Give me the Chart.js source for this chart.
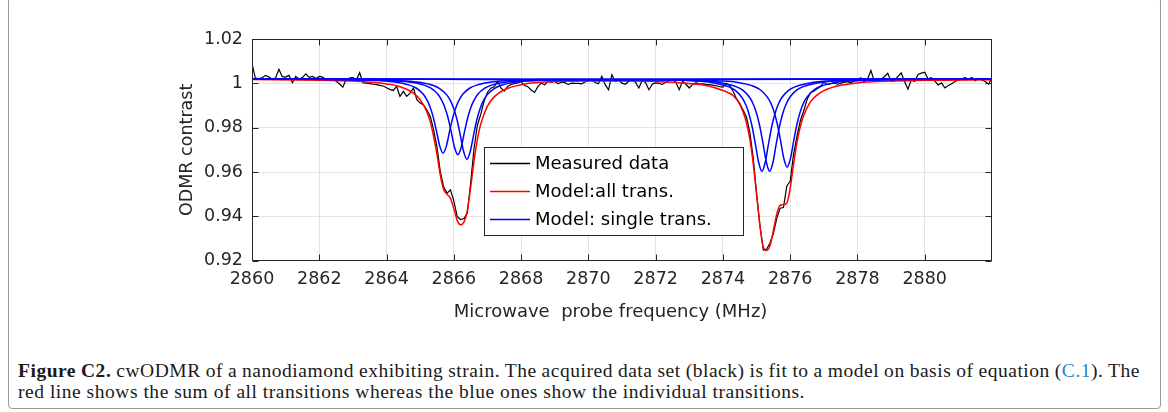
<!DOCTYPE html>
<html>
<head>
<meta charset="utf-8">
<script src="https://cdn.jsdelivr.net/npm/chart.js@4.4.1/dist/chart.umd.min.js"></script>
<style>
  html, body { margin: 0; padding: 0; background: #fff; }
  body { width: 1168px; height: 412px; position: relative; overflow: hidden; }
  #frame { position: absolute; left: 8px; top: -3px; width: 1151px; height: 410px; border: 1px solid #9a9a9a; border-radius: 4px; }
  #plot { position: absolute; left: 0; top: 0; }
  .cap { position: absolute; left: 18px; font-family: "Liberation Serif", "Times New Roman", serif; font-size: 19.5px; color: #1a1a1a; white-space: nowrap; }
  #cap1 { top: 360px; }
  #cap2 { top: 381px; }
  .ref { color: #2a86c8; }
</style>
</head>
<body>
<div id="frame"></div>
<canvas id="plot" width="1168" height="330"></canvas>
<div class="cap" id="cap1"><b>Figure C2.</b> cwODMR of a nanodiamond exhibiting strain. The acquired data set (black) is fit to a model on basis of equation (<span class="ref">C.1</span>). The</div>
<div class="cap" id="cap2">red line shows the sum of all transitions whereas the blue ones show the individual transitions.</div>
<script>
// axis ticks
const xTicks = [2860, 2862, 2864, 2866, 2868, 2870, 2872, 2874, 2876, 2878, 2880];
const yTicks = [0.92, 0.94, 0.96, 0.98, 1, 1.02];

// measured data, sampled every 0.1 MHz from 2860 MHz
const freqStart = 2860;
const freqStep = 0.1;
const measured = [
  1.0088, 1.0024, 1.0021, 1.0025, 1.0036, 1.0029, 1.0020, 1.0024, 1.0063, 1.0030,
  1.0028, 1.0036, 1.0003, 1.0031, 1.0019, 1.0026, 1.0043, 1.0027, 1.0031, 1.0022,
  1.0031, 1.0028, 1.0016, 1.0013, 1.0022, 1.0009, 0.9998, 0.9983, 1.0018, 1.0024,
  1.0027, 1.0015, 1.0048, 1.0003, 1.0001, 0.9999, 0.9996, 0.9994, 0.9991, 0.9988,
  0.9980, 0.9973, 0.9968, 0.9986, 0.9941, 0.9964, 0.9941, 0.9956, 0.9979, 0.9926,
  0.9911, 0.9903, 0.9880, 0.9851, 0.9790, 0.9712, 0.9600, 0.9532, 0.9505, 0.9520,
  0.9470, 0.9400, 0.9386, 0.9390, 0.9414, 0.9550, 0.9705, 0.9810, 0.9860, 0.9920,
  0.9960, 0.9978, 0.9984, 1.0009, 0.9979, 0.9965, 0.9986, 0.9995, 0.9999, 1.0002,
  1.0009, 0.9990, 0.9985, 0.9970, 0.9959, 0.9985, 1.0001, 0.9994, 1.0009, 1.0005,
  1.0009, 0.9998, 1.0006, 1.0003, 0.9995, 1.0001, 1.0000, 1.0000, 0.9998, 1.0006,
  1.0012, 1.0018, 1.0004, 0.9998, 1.0032, 0.9994, 0.9971, 1.0039, 1.0008, 1.0015,
  1.0001, 0.9996, 1.0009, 1.0016, 1.0005, 0.9979, 1.0012, 1.0004, 0.9971, 0.9996,
  1.0002, 1.0000, 0.9995, 1.0005, 1.0012, 1.0018, 1.0006, 0.9971, 1.0009, 0.9996,
  0.9979, 0.9995, 1.0003, 0.9997, 0.9998, 0.9995, 0.9994, 0.9992, 0.9989, 0.9985,
  0.9983, 1.0000, 0.9990, 0.9965, 0.9932, 0.9910, 0.9880, 0.9848, 0.9780, 0.9665,
  0.9505, 0.9360, 0.9248, 0.9252, 0.9280, 0.9322, 0.9390, 0.9437, 0.9440, 0.9537,
  0.9558, 0.9680, 0.9760, 0.9830, 0.9875, 0.9926, 0.9958, 0.9964, 0.9975, 0.9986,
  1.0005, 0.9995, 0.9998, 1.0003, 0.9996, 1.0000, 1.0005, 1.0007, 1.0002, 1.0011,
  1.0015, 1.0025, 1.0008, 1.0020, 1.0058, 1.0010, 1.0012, 1.0017, 1.0030, 1.0045,
  1.0010, 1.0012, 1.0030, 1.0047, 1.0008, 0.9974, 1.0015, 1.0008, 1.0040, 1.0046,
  1.0050, 1.0020, 1.0025, 1.0010, 0.9993, 1.0002, 0.9979, 0.9990, 0.9998, 1.0008,
  1.0015, 1.0020, 1.0026, 1.0018, 1.0026, 1.0012, 1.0022, 1.0015, 1.0008, 0.9996,
  1.0028
];

// model: sum of all transitions (red)
const modelFreq = [
  2860, 2862, 2863, 2863.5, 2864, 2864.4, 2864.8, 2865.0, 2865.2, 2865.3,
  2865.4, 2865.5, 2865.6, 2865.7, 2865.8, 2865.9, 2866.0, 2866.1, 2866.2, 2866.3,
  2866.4, 2866.5, 2866.6, 2866.7, 2866.8, 2867.0, 2867.2, 2867.5, 2868, 2869,
  2870, 2871, 2872, 2873, 2873.5, 2874, 2874.3, 2874.5, 2874.6, 2874.7,
  2874.8, 2874.9, 2875.0, 2875.1, 2875.2, 2875.3, 2875.4, 2875.5, 2875.6, 2875.7,
  2875.8, 2875.9, 2876.0, 2876.1, 2876.2, 2876.3, 2876.4, 2876.6, 2876.8, 2877.0,
  2877.5, 2878, 2879, 2880, 2882
];
const modelAll = [
  1.0017, 1.0014, 1.0010, 1.0005, 0.9997, 0.9985, 0.9956, 0.9926, 0.9871, 0.9826,
  0.9760, 0.9680, 0.9585, 0.9520, 0.9500, 0.9481, 0.9435, 0.9382, 0.9362, 0.9374,
  0.9425, 0.9530, 0.9649, 0.9746, 0.9816, 0.9897, 0.9939, 0.9971, 0.9994, 1.0008,
  1.0010, 1.0010, 1.0008, 0.9999, 0.9990, 0.9968, 0.9945, 0.9906, 0.9870, 0.9822,
  0.9748, 0.9640, 0.9501, 0.9360, 0.9262, 0.9246, 0.9268, 0.9335, 0.9410, 0.9450,
  0.9452, 0.9460, 0.9527, 0.9635, 0.9732, 0.9804, 0.9854, 0.9916, 0.9947, 0.9967,
  0.9991, 1.0002, 1.0010, 1.0014, 1.0016
];

// model: single transitions (blue), one list per transition
const singleFreq = [
  [2860, 2862.68, 2863.68, 2864.18, 2864.68, 2864.88, 2865.08, 2865.18, 2865.28, 2865.38, 2865.48, 2865.58, 2865.68,
   2865.78, 2865.88, 2865.98, 2866.08, 2866.18, 2866.28, 2866.48, 2866.68, 2867.18, 2867.68, 2868.68, 2882],
  [2860, 2863.12, 2864.12, 2864.62, 2865.12, 2865.32, 2865.52, 2865.62, 2865.72, 2865.82, 2865.92, 2866.02, 2866.12,
   2866.22, 2866.32, 2866.42, 2866.52, 2866.62, 2866.72, 2866.92, 2867.12, 2867.62, 2868.12, 2869.12, 2882],
  [2860, 2863.39, 2864.39, 2864.89, 2865.39, 2865.59, 2865.79, 2865.89, 2865.99, 2866.09, 2866.19, 2866.29, 2866.39,
   2866.49, 2866.59, 2866.69, 2866.79, 2866.89, 2866.99, 2867.19, 2867.39, 2867.89, 2868.39, 2869.39, 2882],
  [2860, 2872.16, 2873.16, 2873.66, 2874.16, 2874.36, 2874.56, 2874.66, 2874.76, 2874.86, 2874.96, 2875.06, 2875.16,
   2875.26, 2875.36, 2875.46, 2875.56, 2875.66, 2875.76, 2875.96, 2876.16, 2876.66, 2877.16, 2878.16, 2882],
  [2860, 2872.39, 2873.39, 2873.89, 2874.39, 2874.59, 2874.79, 2874.89, 2874.99, 2875.09, 2875.19, 2875.29, 2875.39,
   2875.49, 2875.59, 2875.69, 2875.79, 2875.89, 2875.99, 2876.19, 2876.39, 2876.89, 2877.39, 2878.39, 2882],
  [2860, 2872.91, 2873.91, 2874.41, 2874.91, 2875.11, 2875.31, 2875.41, 2875.51, 2875.61, 2875.71, 2875.81, 2875.91,
   2876.01, 2876.11, 2876.21, 2876.31, 2876.41, 2876.51, 2876.71, 2876.91, 2877.41, 2877.91, 2878.91, 2882]
];
const singleVal = [
  [1.002, 1.0017, 1.0013, 1.0007, 0.9992, 0.9979, 0.9953, 0.9931, 0.9899, 0.9852, 0.9788, 0.9718, 0.9685,
   0.9718, 0.9788, 0.9852, 0.9899, 0.9931, 0.9953, 0.9979, 0.9992, 1.0007, 1.0013, 1.0017, 1.002],
  [1.002, 1.0017, 1.0012, 1.0007, 0.9992, 0.9978, 0.9952, 0.9929, 0.9897, 0.9849, 0.9783, 0.9712, 0.9678,
   0.9712, 0.9783, 0.9849, 0.9897, 0.9929, 0.9952, 0.9978, 0.9992, 1.0007, 1.0012, 1.0017, 1.002],
  [1.002, 1.0016, 1.0012, 1.0006, 0.9990, 0.9975, 0.9948, 0.9924, 0.9890, 0.9839, 0.9769, 0.9694, 0.9658,
   0.9694, 0.9769, 0.9839, 0.9890, 0.9924, 0.9948, 0.9975, 0.9990, 1.0006, 1.0012, 1.0016, 1.002],
  [1.002, 1.0016, 1.0011, 1.0004, 0.9985, 0.9969, 0.9937, 0.9910, 0.9870, 0.9811, 0.9731, 0.9645, 0.9603,
   0.9645, 0.9731, 0.9811, 0.9870, 0.9910, 0.9937, 0.9969, 0.9985, 1.0004, 1.0011, 1.0016, 1.002],
  [1.002, 1.0016, 1.0011, 1.0004, 0.9985, 0.9969, 0.9937, 0.9910, 0.9870, 0.9811, 0.9731, 0.9645, 0.9603,
   0.9645, 0.9731, 0.9811, 0.9870, 0.9910, 0.9937, 0.9969, 0.9985, 1.0004, 1.0011, 1.0016, 1.002],
  [1.002, 1.0016, 1.0011, 1.0005, 0.9987, 0.9971, 0.9940, 0.9915, 0.9877, 0.9821, 0.9745, 0.9662, 0.9622,
   0.9662, 0.9745, 0.9821, 0.9877, 0.9915, 0.9940, 0.9971, 0.9987, 1.0005, 1.0011, 1.0016, 1.002]
];

const legendLabels = ["Measured data", "Model:all trans.", "Model: single trans."];
const legendColors = ["#000000", "#ff0000", "#0000ff"];

const axisColor = "#262626";
const font = "DejaVu Sans";

function pairs(xs, ys) {
  return ys.map((y, i) => ({ x: xs[i], y: y }));
}

let datasets = [];
datasets.push({
  label: legendLabels[0],
  data: measured.map((y, i) => ({ x: freqStart + i * freqStep, y: y })),
  borderColor: legendColors[0], borderWidth: 1.2, pointRadius: 0, tension: 0, order: 3
});
datasets.push({
  label: legendLabels[1],
  data: pairs(modelFreq, modelAll),
  borderColor: legendColors[1], borderWidth: 1.5, pointRadius: 0,
  cubicInterpolationMode: "monotone", order: 2
});
singleVal.forEach((vals, k) => {
  datasets.push({
    label: legendLabels[2],
    data: pairs(singleFreq[k], vals),
    borderColor: legendColors[2], borderWidth: 1.5, pointRadius: 0,
    cubicInterpolationMode: "monotone", order: 1
  });
});

// box round the axes with inward ticks on every side, like matlab
const boxPlugin = {
  id: "box",
  afterDatasetsDraw(chart) {
    const { ctx, chartArea: a, scales } = chart;
    const L = Math.round(a.left) + 0.5, R = Math.round(a.right) - 0.5;
    const T = Math.round(a.top) + 0.5, B = Math.round(a.bottom) - 0.5;
    ctx.save();
    ctx.strokeStyle = axisColor;
    ctx.lineWidth = 1;
    ctx.strokeRect(L, T, R - L, B - T);
    ctx.beginPath();
    xTicks.forEach(v => {
      const px = Math.round(scales.x.getPixelForValue(v)) + 0.5;
      ctx.moveTo(px, B); ctx.lineTo(px, B - 6);
      ctx.moveTo(px, T); ctx.lineTo(px, T + 6);
    });
    yTicks.forEach(v => {
      const py = Math.round(scales.y.getPixelForValue(v)) + 0.5;
      ctx.moveTo(L, py); ctx.lineTo(L + 6, py);
      ctx.moveTo(R, py); ctx.lineTo(R - 6, py);
    });
    ctx.stroke();
    ctx.restore();
  },
  afterDraw(chart) {
    // legend box inside the plot
    const ctx = chart.ctx;
    const left = 484.5, top = 147.5, w = 259, h = 88;
    ctx.save();
    ctx.fillStyle = "#fff";
    ctx.fillRect(left, top, w, h);
    ctx.strokeStyle = axisColor;
    ctx.lineWidth = 1;
    ctx.strokeRect(left, top, w, h);
    ctx.font = "18px '" + font + "'";
    ctx.textBaseline = "middle";
    legendLabels.forEach((lab, i) => {
      const y = top + 16 + i * 28;
      ctx.strokeStyle = legendColors[i];
      ctx.lineWidth = 1.3;
      ctx.beginPath();
      ctx.moveTo(490, y); ctx.lineTo(530, y);
      ctx.stroke();
      ctx.fillStyle = "#000";
      ctx.fillText(lab, 535, y + 1);
    });
    ctx.restore();
  }
};

new Chart(document.getElementById("plot"), {
  type: "line",
  data: { datasets: datasets },
  options: {
    responsive: false,
    animation: false,
    devicePixelRatio: 1,
    layout: { padding: { left: 173, right: 176, top: 39, bottom: 4 } },
    plugins: { legend: { display: false }, tooltip: { enabled: false } },
    scales: {
      x: {
        type: "linear", min: 2860, max: 2882,
        afterBuildTicks: s => { s.ticks = xTicks.map(v => ({ value: v })); },
        afterFit: s => { s.height = 65.3; },
        grid: { color: "#e3e3e3", drawTicks: false },
        border: { display: false },
        ticks: { color: axisColor, padding: 8, maxRotation: 0, font: { family: font, size: 17.5 },
                 callback: v => String(v) },
        title: { display: true, text: "Microwave  probe frequency (MHz)    ", color: axisColor,
                 font: { family: font, size: 18 }, padding: { top: 0, bottom: 3 } }
      },
      y: {
        min: 0.92, max: 1.02,
        afterBuildTicks: s => { s.ticks = yTicks.map(v => ({ value: v })); },
        afterFit: s => { s.width = 79; },
        grid: { color: "#e3e3e3", drawTicks: false },
        border: { display: false },
        ticks: { color: axisColor, padding: 9, font: { family: font, size: 17.5 },
                 callback: v => String(Number(v.toFixed(2))) },
        title: { display: true, text: "ODMR contrast", color: axisColor,
                 font: { family: font, size: 17.5 }, padding: { top: 4, bottom: 0 } }
      }
    }
  },
  plugins: [boxPlugin]
});

// caption: widen the serif text to the width of the printed one
const cap1 = document.getElementById("cap1");
const cap2 = document.getElementById("cap2");
const line2Width = 787, line1Width = 1122;
const n2 = cap2.textContent.length;
const ls = (line2Width - cap2.getBoundingClientRect().width) / n2;
cap1.style.letterSpacing = ls + "px";
cap2.style.letterSpacing = ls + "px";
const spaces1 = cap1.textContent.split(" ").length - 1;
const ws = (line1Width - cap1.getBoundingClientRect().width) / spaces1;
cap1.style.wordSpacing = ws + "px";
</script>
</body>
</html>
